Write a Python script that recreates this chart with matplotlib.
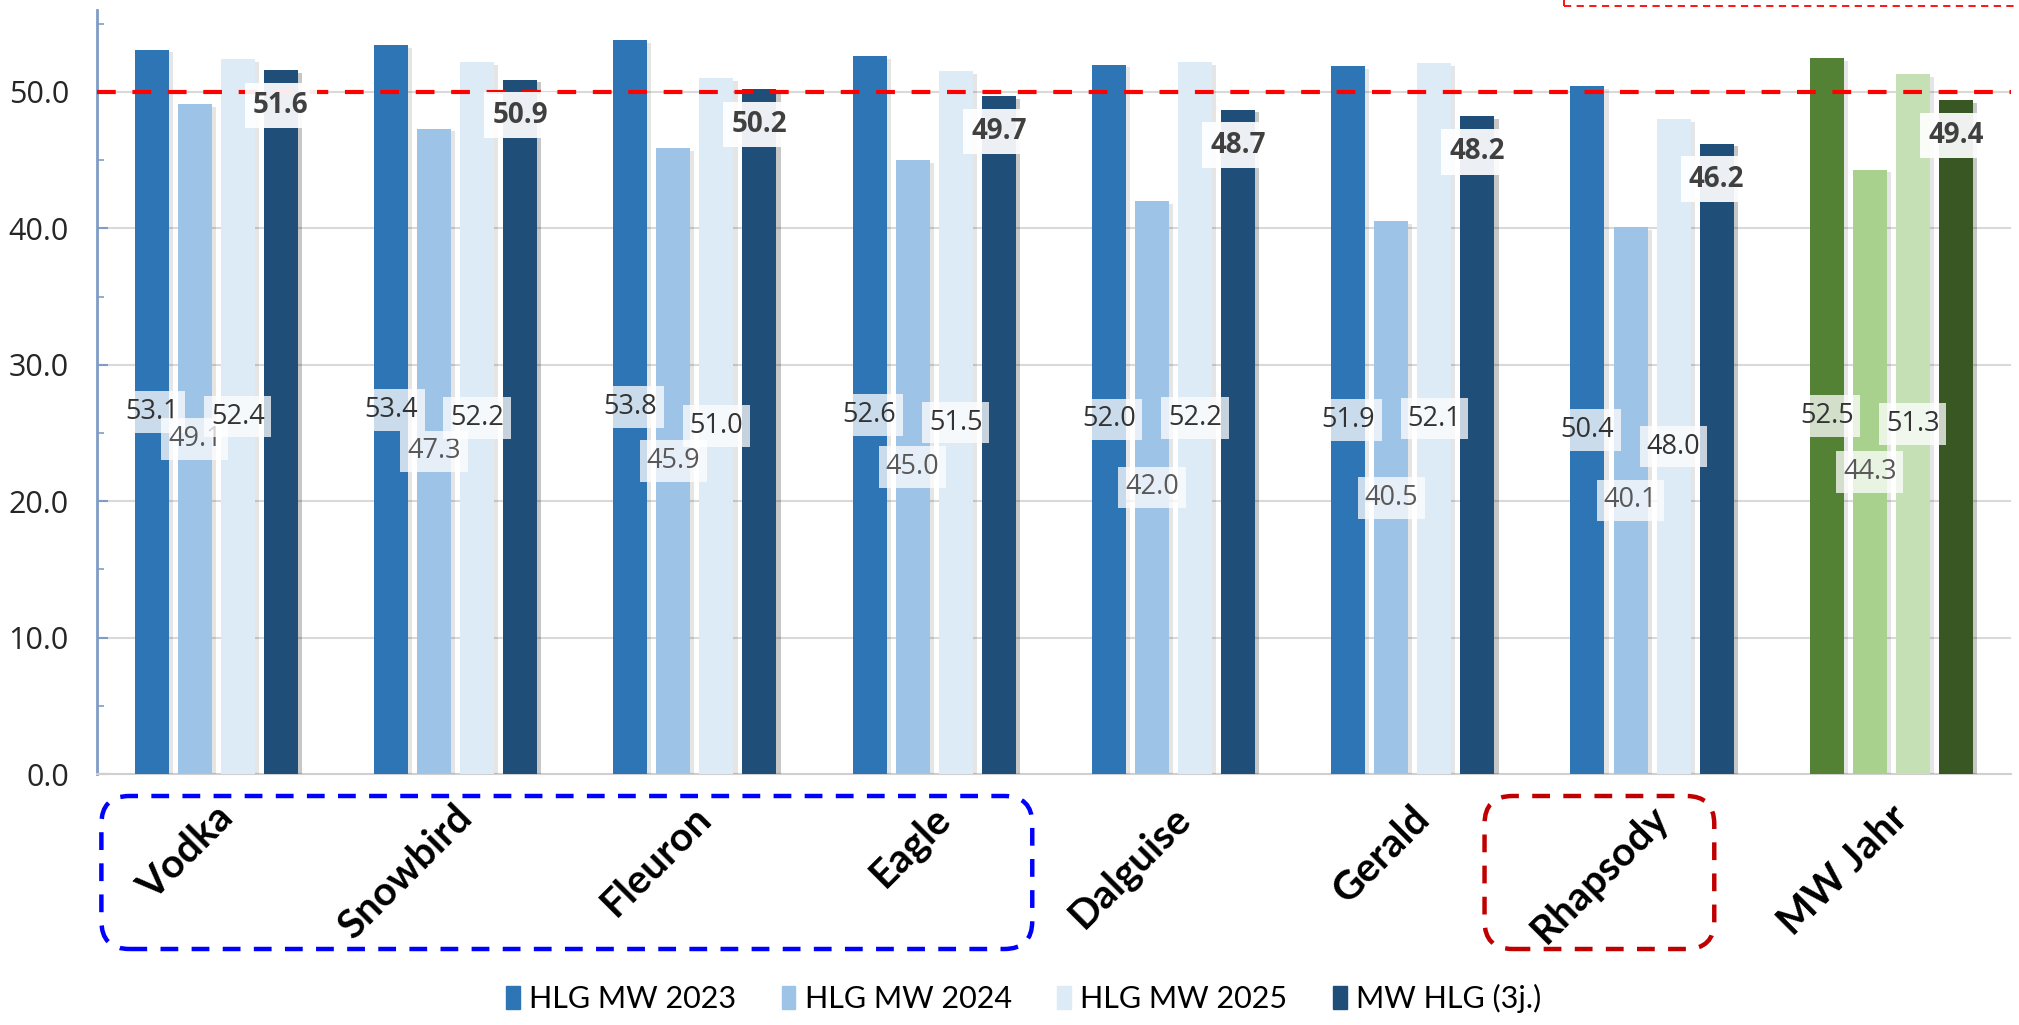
import numpy as np
import matplotlib
matplotlib.use("Agg")
import matplotlib.pyplot as plt
from matplotlib.patches import Patch, FancyBboxPatch, Rectangle
from matplotlib.transforms import IdentityTransform, blended_transform_factory
import matplotlib.patheffects as pe

# data
varieties = ["Vodka", "Snowbird", "Fleuron", "Eagle", "Dalguise", "Gerald", "Rhapsody", "MW Jahr"]
hlg2023 = [53.1, 53.4, 53.8, 52.6, 52.0, 51.9, 50.4, 52.5]
hlg2024 = [49.1, 47.3, 45.9, 45.0, 42.0, 40.5, 40.1, 44.3]
hlg2025 = [52.4, 52.2, 51.0, 51.5, 52.2, 52.1, 48.0, 51.3]
hlg3j = [51.6, 50.9, 50.2, 49.7, 48.7, 48.2, 46.2, 49.4]
series_names = ["HLG MW 2023", "HLG MW 2024", "HLG MW 2025", "MW HLG (3j.)"]
threshold = 50.0

blues = ["#2E75B6", "#9DC3E6", "#DDEBF7", "#1F4E79"]
greens = ["#548235", "#A9D18E", "#C5E0B4", "#385723"]

W, H = 2019, 1025
fig = plt.figure(figsize=(W / 100, H / 100), dpi=100)
ax = fig.add_axes([96.6 / W, 1 - 774 / H, (2011 - 96.6) / W, (774 - 10) / H])

x = np.arange(len(varieties))
step = 0.18
width = 0.142
allSeries = [hlg2023, hlg2024, hlg2025, hlg3j]

for i, vals in enumerate(allSeries):
    cols = [blues[i]] * (len(varieties) - 1) + [greens[i]]
    xs = x + (i - 1.5) * step
    bars = ax.bar(xs, vals, width=width, color=cols, zorder=3)
    shAlpha = 0.22 if i == 3 else 0.1
    for b in bars:
        b.set_path_effects([pe.SimplePatchShadow(offset=(3, -2), shadow_rgbFace="#000000", alpha=shAlpha),
                            pe.Normal()])
    for xv, v in zip(xs, vals):
        if i < 3:
            tcol = "#595959" if i == 1 else "#333333"
            ax.text(xv, v / 2, f"{v:.1f}", ha="center", va="center", fontsize=19.5,
                    color=tcol, family="Open Sans", zorder=5,
                    bbox=dict(boxstyle="square,pad=0.25", fc="white", ec="none", alpha=0.75))
        else:
            ax.text(xv, v - 2.6, f"{v:.1f}", ha="center", va="center", fontsize=20,
                    color="#404040", family="Open Sans", fontweight="bold", zorder=5,
                    bbox=dict(boxstyle="square,pad=0.3", fc="white", ec="none", alpha=0.92))

ax.axhline(threshold, color="#FF0000", lw=3, linestyle=(0, (4.5, 4)), zorder=4, clip_on=False)

ax.set_xlim(-0.5, 7.5)
ax.set_ylim(0, 56)
ax.set_yticks(np.arange(0, 51, 10))
ax.set_yticks(np.arange(5, 56, 10), minor=True)
ax.set_yticklabels([f"{t:.1f}" for t in np.arange(0, 51, 10)], fontsize=22, family="Open Sans", color="#262626")
ax.yaxis.grid(True, color="#D9D9D9", lw=1.5, zorder=0)
ax.tick_params(axis="y", which="major", direction="in", length=8, width=1.5, color="#7F9CC6", pad=20)
ax.tick_params(axis="y", which="minor", direction="in", length=5, width=1.2, color="#7F9CC6")
ax.set_xticks([])
for s in ["top", "right"]:
    ax.spines[s].set_visible(False)
ax.spines["left"].set_color("#7F9CC6")
ax.spines["left"].set_linewidth(2)
ax.spines["bottom"].set_color("#D0D0D0")
ax.spines["bottom"].set_linewidth(1.5)

# category labels, rotated
lblTrans = blended_transform_factory(ax.transData, ax.transAxes)
for xv, name in zip(x, varieties):
    ax.text(xv + 0.045, -0.05, name, transform=lblTrans, rotation=45, rotation_mode="anchor",
            ha="right", va="center", fontsize=29, fontweight="bold", family="Lato", color="black")

# dashed rounded boxes around label groups (pixel coordinates)
def groupBox(x0, x1, color):
    px0 = ax.transData.transform((x0, 0))[0]
    px1 = ax.transData.transform((x1, 0))[0]
    y0, y1 = H - 949, H - 796
    box = FancyBboxPatch((px0, y0), px1 - px0, y1 - y0, boxstyle="round,pad=0,rounding_size=28",
                         transform=IdentityTransform(), fill=False, ec=color, lw=3.2,
                         linestyle=(0, (4, 3)), clip_on=False)
    fig.patches.append(box)

groupBox(-0.48, 3.41, "#0000FF")
groupBox(5.30, 6.26, "#C00000")

# red dashed frame at top right (cut off by the image edge)
fig.patches.append(Rectangle((1564, H - 6), 460, 40, transform=IdentityTransform(), fill=False,
                             ec="#FF0000", lw=1.3, linestyle=(0, (4, 3)), clip_on=False))

handles = [Patch(color=c) for c in blues]
fig.legend(handles, series_names, loc="center", bbox_to_anchor=(0.507, 0.026), ncol=4, frameon=False,
           prop={"family": "Lato", "size": 22}, handlelength=0.45, handleheight=0.8,
           handletextpad=0.3, columnspacing=1.5)

fig.savefig("out.png", dpi=100, facecolor="white")
